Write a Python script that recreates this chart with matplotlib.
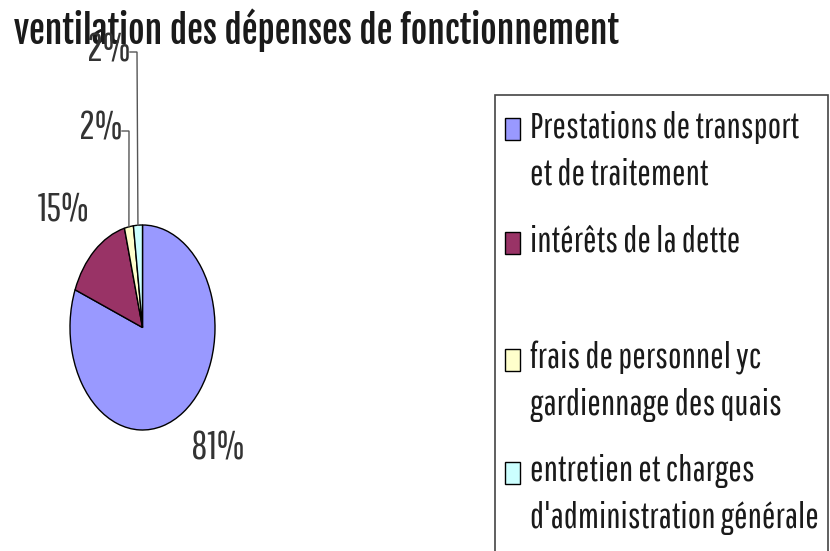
import matplotlib
matplotlib.use('Agg')
import matplotlib.pyplot as plt
from matplotlib.patches import Rectangle
import numpy as np

# data
categories = ["Prestations de transport\net de traitement",
              "intérêts de la dette",
              "frais de personnel yc\ngardiennage des quais",
              "entretien et charges\nd'administration générale"]
shares = [81, 15, 2, 2]
colors = ['#9999FF', '#993366', '#FFFFCC', '#CCFFFF']
title = "ventilation des dépenses de fonctionnement"

W, H = 830, 551
# tall narrow lettering; DejaVu Sans Condensed as the last resort
FONT = ['Pathway Gothic One', 'PT Sans Narrow', 'DejaVu Sans']
TITLE_FONT = ['Fjalla One', 'Oswald', 'DejaVu Sans']
INK = '#1a1a1a'

# pie geometry in pixels (ellipse: squashed horizontally)
CX, CY, RX, RY = 142.5, 327.5, 72.5, 102.5

fig = plt.figure(figsize=(W / 100, H / 100), dpi=100)
ax = fig.add_axes([0, 0, 1, 1])


def to_data(px, py):
    return (px - CX) / RX, (CY - py) / RY


def fig_xy(px, py):
    return px / W, 1 - py / H


wedges, _ = ax.pie(shares, colors=colors, startangle=90, counterclock=False,
                   wedgeprops=dict(edgecolor='black', linewidth=1.0))
ax.set_aspect('auto')
ax.set_xlim((0 - CX) / RX, (W - CX) / RX)
ax.set_ylim((CY - H) / RY, CY / RY)
ax.axis('off')

renderer = fig.canvas.get_renderer()


def fit(txt, width):
    w = txt.get_window_extent(renderer).width
    txt.set_fontsize(txt.get_fontsize() * width / w)


# title
t = fig.text(*fig_xy(14, 30), title, family=TITLE_FONT, fontstretch='condensed',
             fontsize=20, color=INK, ha='left', va='center')
fit(t, 606)

# percentage labels (pixel centres)
label_pos = [(218, 448), (64, 210), (101, 129), (109, 50)]
pct_texts = []
for v, (px, py) in zip(shares, label_pos):
    pt = fig.text(*fig_xy(px, py), f"{v}%", family=FONT, fontstretch='condensed',
                  fontsize=20, color='#333333', ha='center', va='center')
    pct_texts.append(pt)
fit(pct_texts[1], 52)
for pt in pct_texts:
    pt.set_fontsize(pct_texts[1].get_fontsize())

# leader lines for the two small slices
for w, (px, py) in list(zip(wedges, label_pos))[2:]:
    mid = np.radians((w.theta1 + w.theta2) / 2)
    ex, ey = np.cos(mid), np.sin(mid)
    lx, ly = to_data(px + 21, py + 2)
    kx, _ = to_data(px + 28, py + 2)
    ax.plot([lx, kx, ex], [ly, ly, ey], color='#555555', lw=1.0,
            solid_joinstyle='miter')

# legend box (runs off the right and bottom edges)
fig.patches.append(Rectangle(fig_xy(495, 600), 333 / W, 505 / H,
                             transform=fig.transFigure, facecolor='none',
                             edgecolor='#444444', lw=1.2))

marker_y = [129, 243, 360, 473]
line_gap = 47
leg_texts = []
for lab, col, my in zip(categories, colors, marker_y):
    fig.patches.append(Rectangle(fig_xy(505, my + 11), 15 / W, 22 / H,
                                 transform=fig.transFigure, facecolor=col,
                                 edgecolor='black', lw=1.0))
    for i, line in enumerate(lab.split('\n')):
        lt = fig.text(*fig_xy(530, my - 2 + i * line_gap), line, family=FONT,
                      fontstretch='condensed', fontsize=18, color=INK,
                      ha='left', va='center')
        leg_texts.append(lt)
# the longest line sets the size for all legend lines
fit(leg_texts[-1], 290)
for lt in leg_texts:
    lt.set_fontsize(leg_texts[-1].get_fontsize())

fig.savefig('out.png', dpi=100)
